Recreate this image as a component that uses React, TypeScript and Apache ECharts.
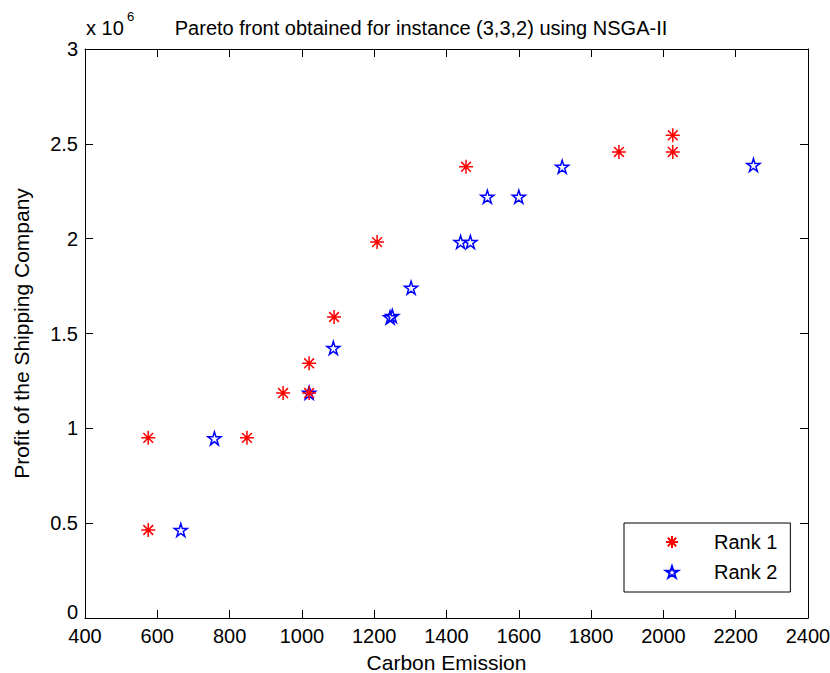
import React, { useEffect, useRef } from "react";
import * as echarts from "echarts";

const rank1X = [575, 575, 848, 948, 1020, 1020, 1089, 1208, 1454, 1877, 2026, 2026];
const rank1Y = [464000, 950000, 950000, 1186000, 1186000, 1343000, 1587000, 1982000, 2379000, 2457000, 2457000, 2545000];
const rank2X = [665, 758, 1020, 1087, 1244, 1250, 1302, 1439, 1466, 1513, 1600, 1720, 2249];
const rank2Y = [464000, 947000, 1188000, 1424000, 1585000, 1592000, 1741000, 1982000, 1982000, 2221000, 2221000, 2379000, 2388000];
const seriesNames = ["Rank 1", "Rank 2"];
const titleText = "Pareto front obtained for instance (3,3,2) using NSGA-II";
const xName = "Carbon Emission";
const yName = "Profit of the Shipping Company";

const ASTERISK = "path://M0,-10L0,10M-10,0L10,0M-7,-7L7,7M-7,7L7,-7";
const STAR =
  "path://M0,-10L2.245,-3.09L9.511,-3.09L3.633,1.18L5.878,8.09L0,3.82L-5.878,8.09L-3.633,1.18L-9.511,-3.09L-2.245,-3.09Z";

const FONT = "'Liberation Sans', Arial, sans-serif";

export default function App() {
  const ref = useRef<HTMLDivElement>(null);
  useEffect(() => {
    if (!ref.current) return;
    const chart = echarts.init(ref.current, null, { renderer: "svg" });
    const axisCommon = {
      type: "value" as const,
      axisLine: { show: true, onZero: false, lineStyle: { color: "#000", width: 1 } },
      axisTick: { show: true, inside: true, length: 8, lineStyle: { color: "#000", width: 1 } },
      splitLine: { show: false },
    };
    chart.setOption({
      animation: false,
      backgroundColor: "#fff",
      textStyle: { fontFamily: FONT },
      title: {
        text: titleText,
        left: 416,
        textAlign: "center",
        top: 13,
        textStyle: { fontSize: 20, fontWeight: "normal", color: "#000", fontFamily: FONT },
      },
      grid: { left: 85, right: 22, top: 49, bottom: 55, outerBoundsMode: "none", containLabel: false },
      xAxis: [
        {
          ...axisCommon,
          min: 400,
          max: 2400,
          interval: 200,
          position: "bottom",
          name: xName,
          nameLocation: "middle",
          nameGap: 35,
          nameTextStyle: { fontSize: 21, lineHeight: 18, color: "#000", fontFamily: FONT },
          axisLabel: {
            fontSize: 20,
            lineHeight: 16,
            color: "#000",
            margin: 10,
            fontFamily: FONT,
            formatter: (v: number) => String(v),
          },
        },
        {
          ...axisCommon,
          min: 400,
          max: 2400,
          interval: 200,
          position: "top",
          axisLabel: { show: false },
        },
      ],
      yAxis: [
        {
          ...axisCommon,
          min: 0,
          max: 3000000,
          interval: 500000,
          position: "left",
          name: yName,
          nameLocation: "middle",
          nameGap: 53,
          nameTextStyle: { fontSize: 21, color: "#000", fontFamily: FONT },
          axisLabel: {
            fontSize: 20,
            lineHeight: 16,
            color: "#000",
            margin: 7,
            fontFamily: FONT,
            formatter: (v: number) => (v === 0 ? "{z|0}" : String(v / 1000000)),
            rich: {
              z: { fontSize: 20, lineHeight: 16, color: "#000", fontFamily: FONT, padding: [0, 0, 12, 0] },
            },
          },
        },
        {
          ...axisCommon,
          min: 0,
          max: 3000000,
          interval: 500000,
          position: "right",
          axisLabel: { show: false },
        },
      ],
      legend: {
        orient: "vertical",
        left: 624,
        top: 523,
        padding: [9, 13, 10, 41],
        itemGap: 10,
        itemWidth: 12,
        itemHeight: 12,
        borderColor: "#000",
        borderWidth: 1,
        backgroundColor: "#fff",
        textStyle: { fontSize: 20, color: "#000", fontFamily: FONT, padding: [0, 0, 0, 31] },
        data: seriesNames,
      },
      graphic: [
        {
          type: "text",
          left: 86,
          top: 18,
          style: { text: "x 10", fontSize: 20, fill: "#000", fontFamily: FONT },
        },
        {
          type: "text",
          left: 127,
          top: 10,
          style: { text: "6", fontSize: 13, fill: "#000", fontFamily: FONT },
        },
      ],
      series: [
        {
          name: seriesNames[0],
          type: "scatter",
          symbol: ASTERISK,
          symbolSize: 14,
          itemStyle: { color: "rgba(0,0,0,0)", borderColor: "#ff0000", borderWidth: 1.5, opacity: 1 },
          data: rank1X.map((x, i) => [x, rank1Y[i]]),
          z: 3,
        },
        {
          name: seriesNames[1],
          type: "scatter",
          symbol: STAR,
          symbolSize: 13,
          itemStyle: { color: "rgba(0,0,0,0)", borderColor: "#0000ff", borderWidth: 1.5, opacity: 1 },
          data: rank2X.map((x, i) => [x, rank2Y[i]]),
          z: 2,
        },
      ],
    });
    return () => chart.dispose();
  }, []);
  return (
    <div
      ref={ref}
      style={{ position: "fixed", left: 0, top: 0, width: 830, height: 673, background: "#fff" }}
    />
  );
}
